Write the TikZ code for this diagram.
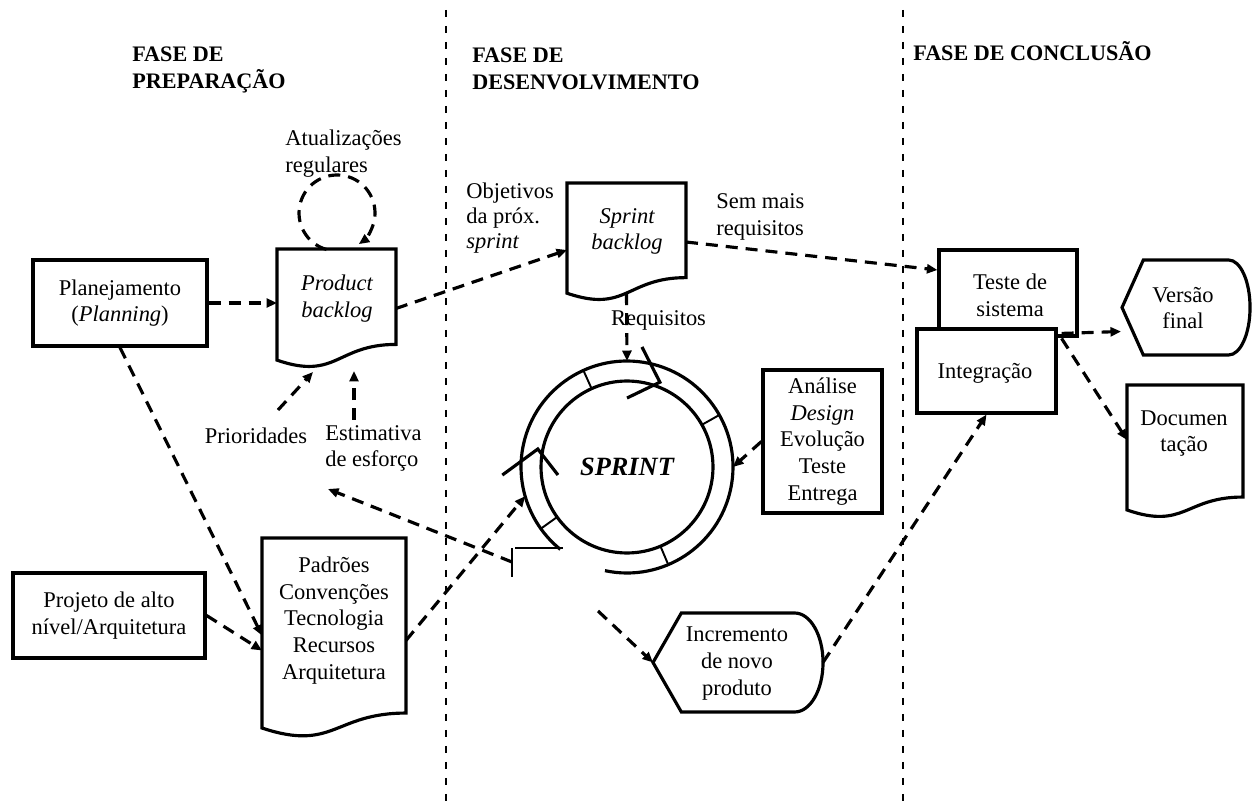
\documentclass[tikz,border=0pt]{standalone}
\usepackage{fontspec}
\setmainfont{Liberation Serif}
\usetikzlibrary{arrows.meta,calc}

% document symbol: name, right-side fraction, left-side fraction, control fraction
\newcommand\docoutline[4]{%
  \draw[shapeline] (#1.north west) -- (#1.north east)
    -- ($(#1.north east)!#2!(#1.south east)$)
    .. controls ($(#1.north)!#2!(#1.south)$) and ($(#1.north)!#4!(#1.south)$)
    .. ($(#1.north west)!#3!(#1.south west)$) -- cycle;}
% display symbol: name, end width (px), end x radius, end y radius
\newcommand\dispoutline[4]{%
  \draw[shapeline] (#1.west) -- ($(#1.north west)+(#2,0)$)
    -- ($(#1.north east)+(-#2,0)$)
    arc[start angle=90, end angle=-90, x radius=#3, y radius=#4]
    -- ($(#1.south west)+(#2,0)$) -- cycle;}

\begin{document}
\begin{tikzpicture}[x=0.02cm, y=-0.02cm,
  txt/.style={font=\fontsize{12.8}{15.2}\selectfont, inner sep=0pt, align=center},
  itxt/.style={txt, font=\fontsize{12.8}{15.2}\selectfont\itshape},
  ltxt/.style={txt, align=left, anchor=west},
  head/.style={font=\fontsize{12.6}{15.4}\selectfont\bfseries, inner sep=0pt, align=left, anchor=west},
  box/.style={draw, line width=1.8pt, fill=white, txt},
  shapeline/.style={line width=1.8pt, fill=white, line join=miter},
  ghost/.style={inner sep=0pt, outer sep=0pt},
  flow/.style={line width=1.8pt, dash pattern=on 0.24cm off 0.16cm,
    -{Triangle[length=0.21cm, width=0.18cm]}},
  divider/.style={line width=1.4pt, dash pattern=on 0.14cm off 0.18cm},
  ringline/.style={line width=1.8pt},
  tick/.style={line width=1.1pt},
]
\useasboundingbox (0,0) rectangle (1257,810);

% phase dividers
\coordinate (d1t) at (446,10);  \coordinate (d1b) at (446,805);
\coordinate (d2t) at (903,10);  \coordinate (d2b) at (903,805);
\draw[divider] (d1t) -- (d1b);
\draw[divider] (d2t) -- (d2b);

% phase titles
\node[head] (h1) at (132,70) {FASE DE\\PREPARAÇÃO};
\node[head] (h2) at (472,69) {FASE DE\\DESENVOLVIMENTO};
\node[head, anchor=base west] (h3) at (913,61) {FASE DE CONCLUSÃO};

% process boxes
\node[box, minimum width=3.48cm, minimum height=1.72cm] (plan) at (120,303) {Planejamento\\(\textit{Planning})};
\node[box, minimum width=3.84cm, minimum height=1.70cm] (proj) at (109,615.5) {Projeto de alto\\nível/Arquitetura};
\node[box, minimum width=2.38cm, minimum height=2.86cm] (anal) at (822.5,441.5) {Análise\\\textit{Design}\\Evolução\\Teste\\Entrega};
\node[box, minimum width=2.76cm, minimum height=1.72cm] (teste) at (1008,293) {};
\node[txt] (testet) at (1010,295) {Teste de\\sistema};
\node[box, minimum width=2.78cm, minimum height=1.68cm] (integ) at (986.5,371) {};
\node[txt] (integt) at (985,373) {Integração};

% documents
\node[ghost, minimum width=2.38cm, minimum height=2.38cm] (pb) at (336.5,308.5) {};
\docoutline{pb}{0.802}{0.934}{1.107}
\node[itxt] (pbt) at (337,298.5) {Product\\backlog};

\node[ghost, minimum width=2.38cm, minimum height=2.36cm] (sb) at (626.5,242) {};
\docoutline{sb}{0.802}{0.934}{1.107}
\node[itxt] (sbt) at (627,231.5) {Sprint\\backlog};

\node[ghost, minimum width=2.88cm, minimum height=4.1cm] (pad) at (334,640.5) {};
\docoutline{pad}{0.854}{0.927}{1.044}
\node[txt] (padt) at (334,620.5) {Padrões\\Convenções\\Tecnologia\\Recursos\\Arquitetura};

\node[ghost, minimum width=2.32cm, minimum height=2.7cm] (doc) at (1185,452.5) {};
\docoutline{doc}{0.83}{0.926}{1.074}
\node[txt] (doct) at (1184,433.5) {Documen\\tação};

% display symbols
\node[ghost, minimum width=2.56cm, minimum height=1.9cm] (vf) at (1186,307.5) {};
\dispoutline{vf}{21.3}{0.427cm}{0.95cm}
\node[txt] (vft) at (1183,308) {Versão\\final};

\node[ghost, minimum width=3.4cm, minimum height=1.98cm] (incr) at (738,662.5) {};
\dispoutline{incr}{28.3}{0.567cm}{0.99cm}
\node[txt] (incrt) at (737,663.5) {Incremento\\de novo\\produto};

% sprint cycle
\coordinate (rc) at (627,467);
\node[ghost, circle, minimum size=4.24cm] (ring) at (rc) {};
\draw[ringline] (rc) circle[radius=1.72cm];
\draw[ringline] ([shift={(258:2.12cm)}]rc) arc[start angle=258, end angle=591, radius=2.12cm];
\foreach \a in {29.4,114.3,215.6,292.9}
  \draw[tick] ([shift={(\a:1.72cm)}]rc) -- ([shift={(\a:2.12cm)}]rc);
\draw[ringline, line join=miter] ([shift={(183.7:2.5cm)}]rc) -- ([shift={(168.6:1.82cm)}]rc) -- ([shift={(186.6:1.39cm)}]rc);
\draw[ringline, line join=miter] ([shift={(82.9:2.42cm)}]rc) -- ([shift={(68.8:1.82cm)}]rc) -- ([shift={(90:1.38cm)}]rc);
\draw[tick] (515,548) -- (563,548);
\draw[tick] (512,548) -- (512,577);
\node[inner sep=0pt, font=\fontsize{15}{18}\selectfont\bfseries\itshape] (sprint) at (rc) {SPRINT};

% labels
\node[ltxt] (atu) at (285,153.5) {Atualizações\\regulares};
\node[txt] (prio) at (256,435.5) {Prioridades};
\node[ltxt] (est) at (325,448.5) {Estimativa\\de esforço};
\node[ltxt, font=\fontsize{12.8}{14.4}\selectfont] (obj) at (466,218) {Objetivos\\da próx.\\\textit{sprint}};
\node[ltxt] (sem) at (716,217) {Sem mais\\requisitos};
\node[txt] (req) at (658.5,320) {Requisitos};

% flows
\coordinate (lc) at (337,213);
\draw[flow] ([shift={(254:0.76cm)}]lc) arc[start angle=254, end angle=-55, radius=0.76cm];
\draw[flow] (plan.east) -- (plan.east -| pb.west);
\draw[flow] (pb.east) -- ($(sb.west)+(0,8)$);
\draw[flow] (sb.east) -- ($(teste.west)+(0,-23)$);
\draw[flow] ($(sb.north)!0.933!(sb.south)$) -- (ring.north);
\draw[flow] (anal.west) -- (ring.east);
\draw[flow] (pad.east) -- (ring.196);
\draw[flow] (plan.south) -- ($(pad.west)+(0,-5)$);
\draw[flow] (proj.east) -- ($(pad.west)+(0,10)$);
\coordinate (prS) at (278,410);  \coordinate (prE) at (313,372);
\draw[flow] (prS) -- (prE);
\coordinate (esS) at (354,420);  \coordinate (esE) at (354,371);
\draw[flow] (esS) -- (esE);
\coordinate (esL) at (512,562);  \coordinate (esT) at (328,489);
\draw[flow] (esL) -- (esT);
\coordinate (inS) at (598,611);
\draw[flow] (inS) -- (incr.west);
\draw[flow] (incr.east) -- (integ.south);
\draw[flow] ($(integ.north east)+(4,6)$) -- ($(vf.west)+(-1,24)$);
\draw[flow] ($(integ.north east)+(4,11)$) -- ($(doc.west)+(0,-12.5)$);
\end{tikzpicture}
\end{document}
